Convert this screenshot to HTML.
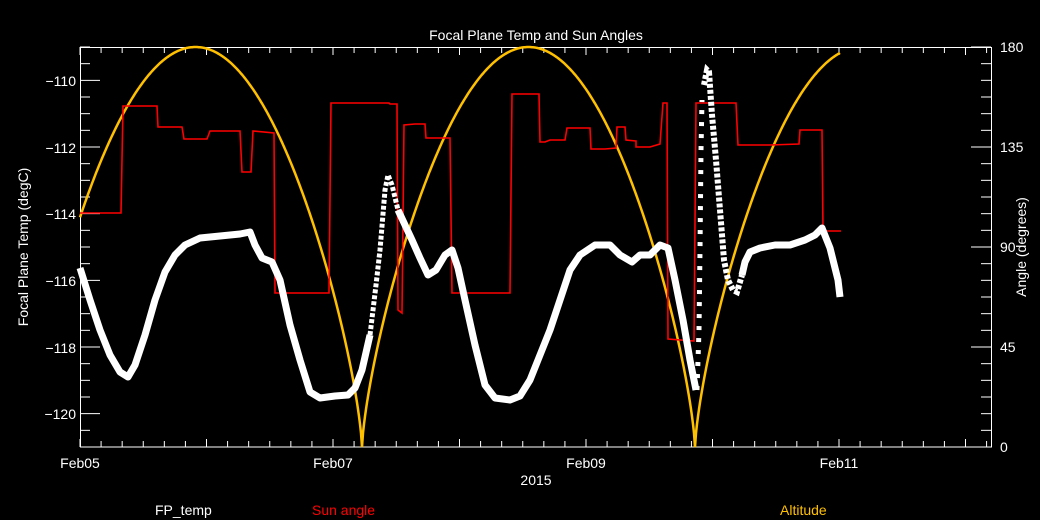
<!DOCTYPE html>
<html><head><meta charset="utf-8"><style>
html,body{margin:0;padding:0;background:#000;}
svg{display:block;}
text{font-family:"Liberation Sans","DejaVu Sans",sans-serif;font-size:14px;}
</style></head><body>
<svg width="1040" height="520" viewBox="0 0 1040 520" xmlns="http://www.w3.org/2000/svg">
<rect width="1040" height="520" fill="#000"/>
<g id="ticks" stroke="#fff" stroke-width="1"></g>
<rect x="80.5" y="47.5" width="911" height="399.5" fill="none" stroke="#fff" stroke-width="1"/>
<g fill="#fff" text-anchor="end">
<text x="76" y="86">−110</text><text x="76" y="153">−112</text><text x="76" y="219">−114</text>
<text x="76" y="286">−116</text><text x="76" y="353">−118</text><text x="76" y="419">−120</text>
</g>
<g fill="#fff" text-anchor="start">
<text x="1000" y="52">180</text><text x="1000" y="152">135</text><text x="1000" y="252">90</text>
<text x="1000" y="352">45</text><text x="1000" y="452">0</text>
</g>
<g fill="#fff" text-anchor="middle">
<text x="80" y="468">Feb05</text><text x="333" y="468">Feb07</text><text x="586" y="468">Feb09</text><text x="839" y="468">Feb11</text>
<text x="536" y="485">2015</text>
<text x="536" y="40" font-size="15">Focal Plane Temp and Sun Angles</text>
<text transform="translate(28,247) rotate(-90)">Focal Plane Temp (degC)</text>
<text transform="translate(1026,247) rotate(-90)">Angle (degrees)</text>
</g>
<text x="155" y="515" fill="#fff">FP_temp</text>
<text x="312" y="515" fill="#ff0000">Sun angle</text>
<text x="780" y="515" fill="#ffc000">Altitude</text>

<path id="alt" fill="none" stroke="#ffc000" stroke-width="2.5"/>

<polyline fill="none" stroke="#ff0000" stroke-width="1.6" points="80,213 121,213 123,106 157,106 158,127 182,127 184,139 207,139 210,131 240,131 242,172 251,172 253,131 274,133 275,293 329,293 331,103 389,103 390,104 397,104 398,310 402,313 404,125 415,124 425,124 426,138 450,138 452,293 510,293 512,94 539,94 540,142 545,142 550,140 565,140 567,128 590,128 591,149 605,149 616,148 617,127 625,127 626,140 636,141 636,147 650,147 660,144 663,103 667,103 668,339 694,341 696,103 736,103 738,145 770,145 799,144 800,130 822,130 823,231 841,231"/>

<polyline fill="none" stroke="#fff" stroke-width="7" stroke-linejoin="round" points="80,268 90,300 100,330 110,355 120,372 128,377 135,365 145,335 155,300 165,272 175,255 185,245 200,238 220,236 240,234 250,232 255,245 262,258 272,262 280,280 290,325 300,360 310,392 320,398 335,396 348,395 355,388 362,370 370,335"/>
<polyline fill="none" stroke="#fff" stroke-width="5" stroke-dasharray="4,2" points="370,335 376,285 380,250 385,190 388,175 392,185 398,210"/>
<polyline fill="none" stroke="#fff" stroke-width="7" stroke-linejoin="round" points="398,210 405,225 412,240 420,258 428,275 436,270 445,255 452,250 458,268 465,300 475,345 485,385 495,398 510,400 520,396 530,380 540,355 550,330 560,300 570,270 580,255 595,245 610,245 620,255 632,262 640,255 650,255 660,245 668,248 675,280 683,320 690,360 696,390"/>
<polyline fill="none" stroke="#fff" stroke-width="5" stroke-dasharray="4,8" points="697,390 699,330 700,250 701,150 702,100"/>
<polyline fill="none" stroke="#fff" stroke-width="6" stroke-dasharray="4,2" points="704,85 707,70 709,72 712,115 716,160 720,210 724,260 728,280 733,290 737,292 742,275"/>
<polyline fill="none" stroke="#fff" stroke-width="7" stroke-linejoin="round" points="742,275 745,262 750,252 760,248 775,245 790,245 805,240 815,235 822,228 830,248 838,280 840,297"/>
</svg>
<script>
(function(){
var g=document.getElementById("ticks"),s="";
function ln(a,b,c,d){s+='<line x1="'+a+'" y1="'+b+'" x2="'+c+'" y2="'+d+'"/>';}
for(var i=0;i<=24;i++){var y=47+i*400/24;var L=(i%4==2)?20:10;ln(80,y,80+L,y);}
for(var i=0;i<=24;i++){var y=47+i*400/24;var L=(i%6==0)?20:10;ln(991,y,991-L,y);}
for(var i=0;i<=43;i++){var x=80+i*126.5/6;if(x>991)break;var L=(i%6==0)?8:6;ln(x,447,x,447-L);ln(x,47,x,47+L);}
g.innerHTML=s;
var d="";for(var x=80;x<=840;x+=1){var t=Math.abs(Math.sin(Math.PI*(x-362)/333));var y=447-400*Math.pow(t,0.72);d+=(x==80?"M":"L")+x+","+y.toFixed(1)+" ";}
document.getElementById("alt").setAttribute("d",d);
})();
</script>
</body></html>
